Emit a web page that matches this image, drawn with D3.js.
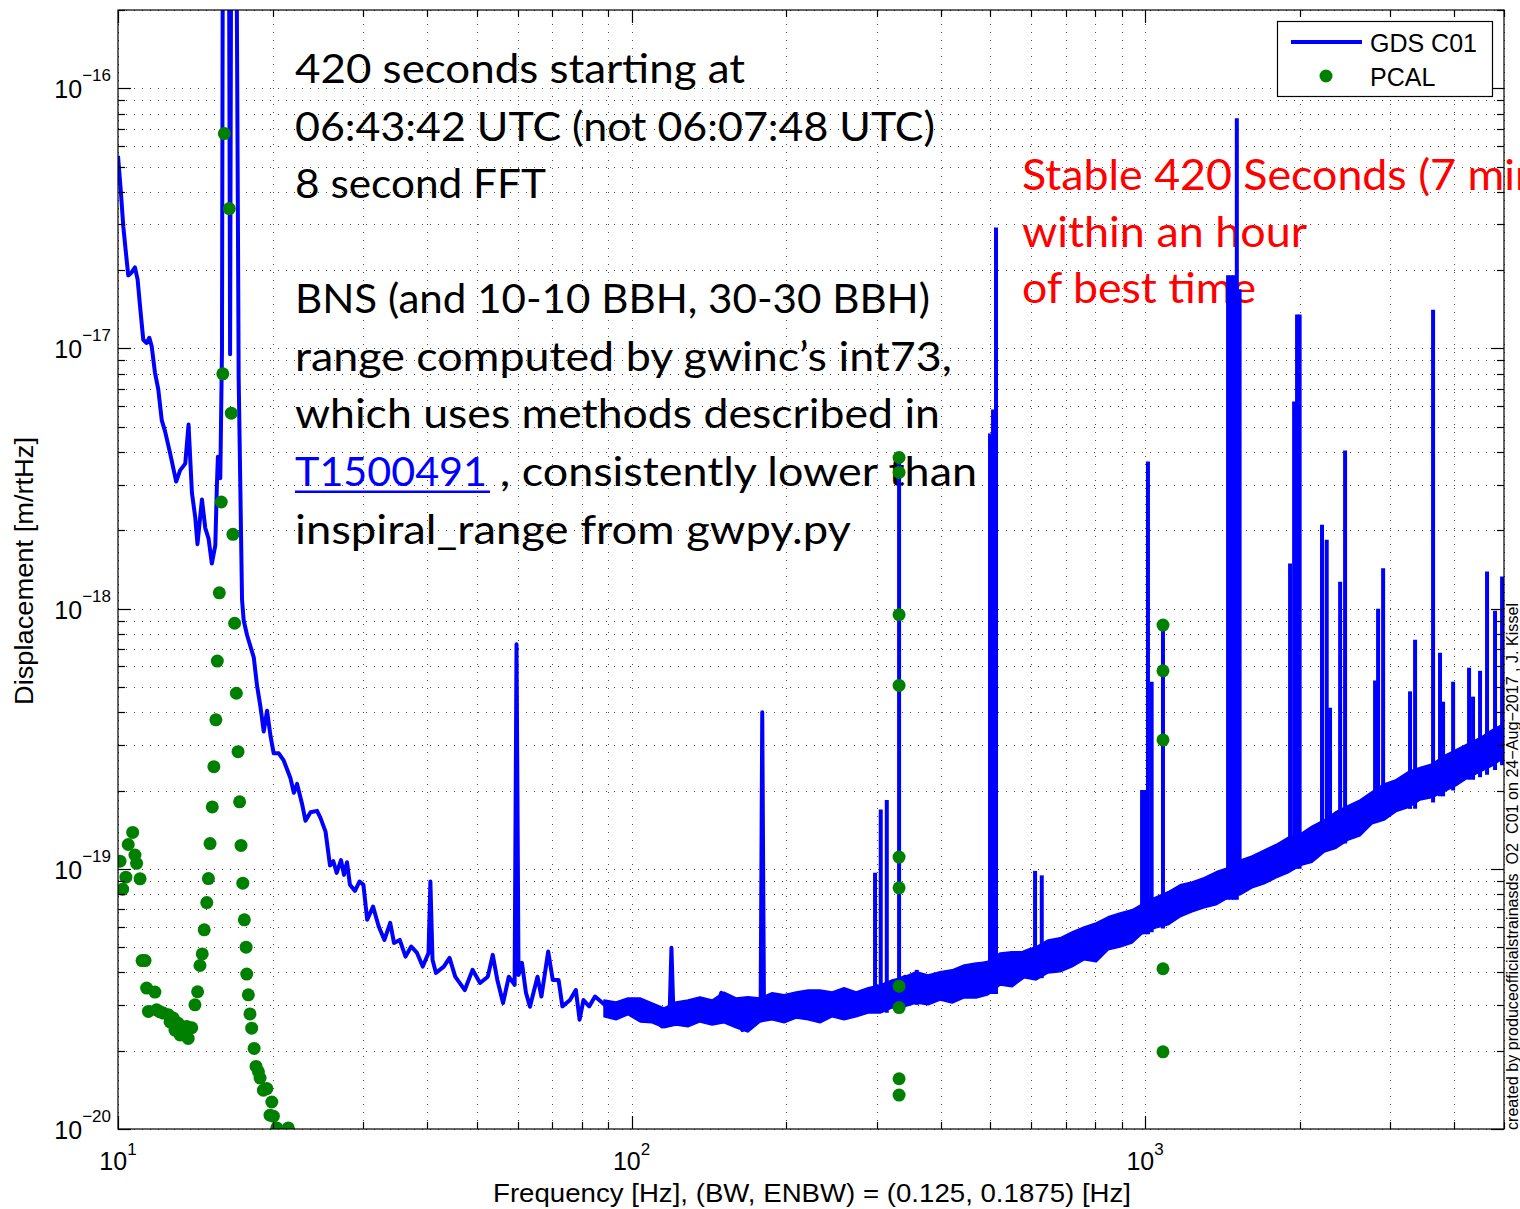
<!DOCTYPE html>
<html>
<head>
<meta charset="utf-8">
<script src="https://cdn.jsdelivr.net/npm/d3@7"></script>
<style>
    body { margin: 0; background: #fff; }
    svg { display: block; }
</style>
</head>
<body>
<div class="asd-chart-container"></div>
<script>
// GDS C01 displacement ASD (Hz, m/rtHz).
const gdsFreq = [10, 10.12, 10.24, 10.36, 10.47, 10.63, 10.79, 10.92, 11.04, 11.2, 11.37, 11.51, 11.63, 11.8, 11.98,
    12.17, 12.35, 12.63, 12.98, 13.21, 13.52, 13.72, 13.93, 14.14, 14.28, 14.57, 14.79, 15.01, 15.23, 15.47, 15.58,
    15.65, 15.82, 15.94, 16.0, 16.45, 16.53, 16.61, 17.01, 17.18, 17.44, 17.57, 17.84, 18.38, 18.65, 18.94, 19.22,
    19.51, 19.81, 20.1, 20.56, 21.02, 21.67, 22.0, 22.32, 22.82, 23.18, 23.71, 24.41, 24.79, 25.36, 25.87, 26.26,
    26.66, 27.18, 27.55, 27.92, 28.29, 28.94, 29.54, 30.05, 30.57, 31.38, 32.19, 33.02, 33.89, 34.47, 35.37, 36.3,
    37.24, 38.22, 39.21, 40.24, 40.58, 40.97, 41.61, 43.1, 44.22, 45.36, 47.35, 49.02, 50.7, 52.5, 53.67, 54.79,
    56.21, 57.68, 59.2, 59.71, 60.25, 61.18, 62.29, 63.42, 65.6, 66.76, 68.82, 70.25, 72.1, 73.34, 75.89, 77.9,
    79.23, 80.6, 82.72, 84.9, 87.85, 90.89, 94.08, 97.34, 100.8, 104.3, 107.9, 111.7, 114.6, 118.6, 119.6, 120.7,
    123.7, 128.2, 132.6, 137.2, 142.0, 147.0, 149.5, 154.7, 160.2, 164.4, 168.6, 174.6, 178.4, 179.7, 181.1, 183.6,
    190.1, 196.7, 203.6, 210.8, 221.8, 233.6, 245.9, 259.0, 272.7, 287.0, 304.8, 340.9, 358.8, 384.2, 417.2, 456.2,
    499.0, 545.9, 597.0, 653.1, 714.3, 781.3, 854.6, 934.9, 1022, 1119, 1224, 1338, 1464, 1602, 1752, 1916, 2096,
    2292, 2507, 2743, 3000, 3281, 3589, 3926, 4294, 4697, 5000];
const gdsAsd = [5.5e-17, 4.1e-17, 2.95e-17, 2.34e-17, 1.91e-17, 1.96e-17, 2.05e-17, 1.84e-17, 1.45e-17, 1.08e-17,
    1.05e-17, 1.10e-17, 1.02e-17, 8.1e-18, 6.96e-18, 5.29e-18, 4.8e-18, 3.96e-18, 3.08e-18, 3.4e-18, 3.61e-18, 5.1e-18,
    2.79e-18, 2.24e-18, 1.77e-18, 2.63e-18, 2.04e-18, 1.86e-18, 1.49e-18, 1.75e-18, 2.98e-18, 3.84e-18, 3.17e-18,
    9.9e-18, 4e-16, 4e-16, 9.5e-18, 4e-16, 4e-16, 7.6e-18, 1.08e-18, 9.0e-19, 7.9e-19, 6.5e-19, 5.07e-19, 4.2e-19,
    3.37e-19, 4.05e-19, 3.25e-19, 2.78e-19, 2.78e-19, 2.61e-19, 2.23e-19, 1.96e-19, 2.12e-19, 1.78e-19, 1.53e-19,
    1.65e-19, 1.67e-19, 1.57e-19, 1.39e-19, 1.03e-19, 1.07e-19, 9.65e-20, 1.08e-19, 9.48e-20, 1.06e-19, 8.68e-20,
    8.23e-20, 8.94e-20, 8.68e-20, 6.37e-20, 7.16e-20, 6.0e-20, 5.33e-20, 6.2e-20, 5.19e-20, 5.33e-20, 4.6e-20,
    5.03e-20, 4.75e-20, 4.21e-20, 4.75e-20, 8.94e-20, 4.47e-20, 3.98e-20, 4.21e-20, 4.55e-20, 3.85e-20, 3.42e-20,
    4.09e-20, 3.64e-20, 3.85e-20, 4.67e-20, 3.74e-20, 3.05e-20, 3.85e-20, 3.58e-20, 7.3e-19, 3.91e-20, 4.35e-20,
    3.34e-20, 2.95e-20, 3.85e-20, 3.23e-20, 4.81e-20, 3.74e-20, 3.74e-20, 2.96e-20, 3.13e-20, 3.42e-20, 2.63e-20,
    3.13e-20, 2.96e-20, 3.23e-20, 3.05e-20, 2.87e-20, 3.05e-20, 2.79e-20, 3.09e-20, 2.87e-20, 2.79e-20, 2.63e-20,
    2.48e-20, 2.75e-20, 4.97e-20, 2.75e-20, 2.87e-20, 2.87e-20, 2.7e-20, 2.96e-20, 2.79e-20, 2.96e-20, 3.34e-20,
    2.63e-20, 2.87e-20, 2.4e-20, 2.96e-20, 2.96e-20, 2.87e-20, 4.0e-19, 2.92e-20, 3.05e-20, 2.87e-20, 3.13e-20,
    2.96e-20, 3.13e-20, 3.05e-20, 3.23e-20, 3.13e-20, 3.23e-20, 2.96e-20, 3.34e-20, 3.42e-20, 3.85e-20, 3.74e-20,
    3.64e-20, 3.91e-20, 4.16e-20, 4.39e-20, 4.55e-20, 4.88e-20, 5.1e-20, 5.58e-20, 5.93e-20, 6.25e-20, 6.83e-20,
    7.27e-20, 7.6e-20, 8.3e-20, 8.68e-20, 9.74e-20, 1.03e-19, 1.13e-19, 1.23e-19, 1.32e-19, 1.44e-19, 1.54e-19,
    1.72e-19, 1.84e-19, 2.01e-19, 2.16e-19, 2.4e-19, 2.63e-19, 2.92e-19, 3.13e-19];

// Upper / lower edge of the dense noise band from ~90 Hz up.
const bandFreq = [88.4, 93.3, 98.4, 103.9, 109.6, 115.7, 122.1, 128.8, 135.9, 143.5, 151.4, 159.8, 168.6, 178.0,
    187.8, 198.2, 209.2, 220.7, 232.9, 245.8, 259.4, 273.8, 288.9, 304.9, 321.7, 339.5, 358.3, 378.1, 399.0, 421.1,
    444.4, 468.9, 494.9, 522.2, 550.8, 581.3, 613.5, 647.4, 683.2, 721.0, 760.8, 802.9, 847.3, 894.1, 943.5, 995.5,
    1051, 1109, 1170, 1235, 1303, 1375, 1451, 1531, 1616, 1705, 1799, 1899, 2004, 2115, 2232, 2355, 2485, 2623,
    2768, 2921, 3082, 3253, 3433, 3622, 3822, 4034, 4257, 4492, 4740, 5000];
const bandTop = [3.13e-20, 3.08e-20, 3.19e-20, 3.19e-20, 3.05e-20, 2.92e-20, 3.08e-20, 3.13e-20, 3.22e-20, 3.13e-20,
    3.36e-20, 3.19e-20, 3.22e-20, 3.19e-20, 3.34e-20, 3.28e-20, 3.36e-20, 3.42e-20, 3.42e-20, 3.36e-20, 3.49e-20,
    3.36e-20, 3.49e-20, 3.58e-20, 3.74e-20, 3.84e-20, 4.02e-20, 3.91e-20, 4.02e-20, 4.09e-20, 4.27e-20, 4.35e-20,
    4.39e-20, 4.75e-20, 4.8e-20, 4.8e-20, 5.01e-20, 5.33e-20, 5.43e-20, 5.72e-20, 5.98e-20, 6.2e-20, 6.54e-20,
    6.77e-20, 6.96e-20, 7.4e-20, 7.8e-20, 8.16e-20, 8.68e-20, 8.91e-20, 9.24e-20, 9.74e-20, 1.01e-19, 1.08e-19,
    1.12e-19, 1.18e-19, 1.24e-19, 1.32e-19, 1.36e-19, 1.46e-19, 1.54e-19, 1.66e-19, 1.75e-19, 1.84e-19, 1.98e-19,
    2.12e-19, 2.2e-19, 2.36e-19, 2.45e-19, 2.53e-19, 2.72e-19, 2.87e-19, 3.03e-19, 3.19e-19, 3.42e-19, 3.61e-19];
const bandBottom = [2.7e-20, 2.63e-20, 2.75e-20, 2.58e-20, 2.56e-20, 2.45e-20, 2.51e-20, 2.47e-20, 2.58e-20, 2.51e-20,
    2.56e-20, 2.45e-20, 2.36e-20, 2.58e-20, 2.63e-20, 2.56e-20, 2.67e-20, 2.63e-20, 2.56e-20, 2.7e-20, 2.63e-20,
    2.7e-20, 2.79e-20, 2.79e-20, 2.92e-20, 2.95e-20, 3.05e-20, 3.0e-20, 3.13e-20, 3.05e-20, 3.19e-20, 3.19e-20,
    3.28e-20, 3.58e-20, 3.52e-20, 3.81e-20, 3.74e-20, 3.98e-20, 4.02e-20, 4.2e-20, 4.47e-20, 4.39e-20, 4.88e-20,
    5.01e-20, 5.19e-20, 5.72e-20, 5.93e-20, 6.09e-20, 6.54e-20, 6.83e-20, 7.08e-20, 7.27e-20, 7.74e-20, 7.94e-20,
    8.45e-20, 8.76e-20, 9.24e-20, 9.65e-20, 1.03e-19, 1.06e-19, 1.16e-19, 1.2e-19, 1.29e-19, 1.34e-19, 1.49e-19,
    1.54e-19, 1.66e-19, 1.72e-19, 1.84e-19, 1.88e-19, 1.98e-19, 2.09e-19, 2.24e-19, 2.36e-19, 2.49e-19, 2.67e-19];

// Narrow lines above the band: frequency, peak, floor under the peak.
const lineFreq = [298.0, 305.7, 314.1, 331.9, 359.3, 499.0, 505.8, 512.6, 610.7, 629.3, 986.7, 1000, 1013, 1030,
    1083.7, 1451, 1471, 1490, 1509, 1528, 1916, 1951, 1977, 2000, 2211, 2258, 2292, 2398, 2452, 2805, 2843, 2908,
    3281, 3356, 3638, 3753, 3805, 3980, 4275, 4352, 4491, 4634, 4803, 4957];
const linePeak = [9.65e-20, 1.69e-19, 1.84e-19, 3.88e-18, 4.09e-20, 4.71e-18, 5.83e-18, 2.92e-17, 9.82e-20, 9.44e-20,
    2.01e-19, 2.01e-19, 3.68e-18, 5.24e-19, 8.65e-19, 1.91e-17, 1.91e-17, 1.91e-17, 7.67e-17, 1.69e-17, 1.49e-18,
    6.25e-18, 1.35e-17, 1.35e-17, 2.1e-18, 1.84e-18, 4.16e-19, 1.27e-18, 4.05e-18, 5.29e-19, 1.0e-18, 1.43e-18,
    4.81e-19, 7.6e-19, 1.41e-17, 6.77e-19, 4.39e-19, 5.24e-19, 5.93e-19, 4.59e-19, 5.77e-19, 1.39e-18, 9.82e-19,
    1.33e-18];
const lineFloor = [2.8e-20, 2.8e-20, 2.8e-20, 2.9e-20, 3.0e-20, 3.3e-20, 3.3e-20, 3.3e-20, 3.8e-20, 3.8e-20, 5.6e-20,
    5.6e-20, 5.6e-20, 5.7e-20, 5.9e-20, 7.6e-20, 7.6e-20, 7.6e-20, 7.6e-20, 8.0e-20, 1.0e-19, 1.0e-19, 1.0e-19,
    1.0e-19, 1.2e-19, 1.2e-19, 1.2e-19, 1.25e-19, 1.25e-19, 1.55e-19, 1.55e-19, 1.55e-19, 1.7e-19, 1.7e-19, 1.8e-19,
    1.9e-19, 1.9e-19, 2.0e-19, 2.2e-19, 2.2e-19, 2.25e-19, 2.3e-19, 2.4e-19, 2.5e-19];

// PCAL points.
const pcalFreq = [10.68, 10.47, 10.09, 10.79, 10.87, 10.36, 11.04, 10.21, 11.14, 11.29, 11.37, 11.8, 11.46, 11.89,
    12.07, 12.25, 12.53, 12.63, 12.81, 12.91, 13.1, 13.21, 13.31, 13.45, 13.61, 13.7, 13.92, 14.12, 14.29, 14.44,
    14.59, 14.72, 14.89, 15.0, 15.11, 15.26, 15.37, 15.51, 15.61, 15.75, 15.89, 16.0, 16.11, 16.47, 16.62, 16.74,
    16.87, 17.0, 17.13, 17.25, 17.36, 17.5, 17.62, 17.76, 17.81, 17.94, 18.07, 18.21, 18.41, 18.57, 18.77, 18.91,
    19.19, 19.49, 19.93, 19.77, 20.07, 20.38, 21.46,
    331.9, 331.9, 331.9, 331.9, 331.9, 331.9, 331.9, 331.9, 331.9, 331.9,
    1083.7, 1083.7, 1083.7, 1083.7, 1083.7];
const pcalAsd = [1.38e-19, 1.24e-19, 1.07e-19, 1.13e-19, 1.05e-19, 9.29e-20, 9.15e-20, 8.35e-20, 4.44e-20, 4.44e-20,
    3.48e-20, 3.36e-20, 2.83e-20, 2.87e-20, 2.82e-20, 2.79e-20, 2.75e-20, 2.58e-20, 2.67e-20, 2.4e-20, 2.55e-20,
    2.3e-20, 2.4e-20, 2.34e-20, 2.48e-20, 2.23e-20, 2.45e-20, 3.0e-20, 3.37e-20, 4.25e-20, 4.71e-20, 5.83e-20,
    7.42e-20, 9.17e-20, 1.25e-19, 1.73e-19, 2.47e-19, 3.74e-19, 6.29e-19, 1.15e-18, 2.57e-18, 7.99e-18, 6.7e-17,
    3.45e-17, 5.64e-18, 1.93e-18, 8.79e-19, 4.73e-19, 2.82e-19, 1.81e-19, 1.23e-19, 8.81e-20, 6.37e-20, 5.0e-20,
    3.94e-20, 3.28e-20, 2.77e-20, 2.44e-20, 2.04e-20, 1.74e-20, 1.66e-20, 1.57e-20, 1.41e-20, 1.43e-20, 1.27e-20,
    1.13e-20, 1.12e-20, 1.01e-20, 1.01e-20,
    3.81e-18, 3.34e-18, 9.48e-19, 5.07e-19, 1.11e-19, 8.45e-20, 3.54e-20, 2.93e-20, 1.56e-20, 1.35e-20,
    8.65e-19, 5.77e-19, 3.13e-19, 4.13e-20, 1.98e-20];

const xMajorTicks = [10, 100, 1000];
const xExponents = ['1', '2', '3'];
const yMajorTicks = [1e-20, 1e-19, 1e-18, 1e-17, 1e-16];
const yExponents = ['\u221220', '\u221219', '\u221218', '\u221217', '\u221216'];

const noteLines = [
    '420 seconds starting at',
    '06:43:42 UTC (not 06:07:48 UTC)',
    '8 second FFT',
    'BNS (and 10-10 BBH, 30-30 BBH)',
    'range computed by gwinc\u2019s int73,',
    'which uses methods described in',
    ', consistently lower than',
    'inspiral_range from gwpy.py'
];
const noteLink = 'T1500491';
const redLines = ['Stable 420 Seconds (7 min)', 'within an hour', 'of best time'];
const legendLabels = ['GDS C01', 'PCAL'];
const xTitle = 'Frequency [Hz], (BW, ENBW) = (0.125, 0.1875) [Hz]';
const yTitle = 'Displacement [m/rtHz]';
const credit = 'created by produceofficialstrainasds  O2  C01 on 24\u2212Aug\u22122017 , J. Kissel';

const BLUE = '#0000ff';
const GREEN = '#008000';
const AXIS_FONT = '"Liberation Sans", Arial, sans-serif';
const NOTE_FONT = 'Lato, "Open Sans", sans-serif';

const svg = d3
    .select('.asd-chart-container')
    .append('svg')
    .attr('width', 1520)
    .attr('height', 1209);

ready();

function ready() {
    const area = baseDimension();

    const x = d3.scaleLog().domain([10, 5000]).range([area.left, area.right]);
    const y = d3.scaleLog().domain([1e-20, 2e-16]).range([area.bottom, area.top]);

    drawGrid(x, y, area);
    drawNotes();
    drawData(x, y, area);
    drawAxes(x, y, area);
    drawLegend();
    drawTitles(area);
}

function baseDimension() {
    return {left: 118, right: 1504, top: 10, bottom: 1129};
}

function drawGrid(x, y, area) {
    const grid = svg.append('g')
        .attr('stroke', '#000')
        .attr('stroke-width', 1)
        .attr('stroke-dasharray', '1,7')
        .attr('opacity', 0.7);

    grid.selectAll('.gx')
        .data(x.ticks())
        .enter()
        .append('line')
        .attr('x1', d => Math.round(x(d)) + 0.5)
        .attr('x2', d => Math.round(x(d)) + 0.5)
        .attr('y1', area.bottom)
        .attr('y2', area.top);

    grid.selectAll('.gy')
        .data(y.ticks())
        .enter()
        .append('line')
        .attr('y1', d => Math.round(y(d)) + 0.5)
        .attr('y2', d => Math.round(y(d)) + 0.5)
        .attr('x1', area.left)
        .attr('x2', area.right);
}

function drawNotes() {
    const notes = svg.append('g')
        .attr('font-family', NOTE_FONT)
        .attr('font-size', 40)
        .attr('fill', '#000');

    // left, baseline, width of each black line
    const layout = [
        [295, 83, 450], [295, 140.5, 640], [295, 198, 251], [295, 313, 635],
        [295, 370.5, 657], [295, 428, 645], [500, 486, 477], [295, 543.5, 556]
    ];
    noteLines.forEach((t, i) => {
        notes.append('text')
            .attr('x', layout[i][0])
            .attr('y', layout[i][1])
            .attr('textLength', layout[i][2])
            .attr('lengthAdjust', 'spacingAndGlyphs')
            .text(t);
    });

    notes.append('text')
        .attr('x', 295)
        .attr('y', 486)
        .attr('textLength', 192)
        .attr('lengthAdjust', 'spacingAndGlyphs')
        .attr('fill', BLUE)
        .text(noteLink);
    notes.append('rect')
        .attr('x', 295)
        .attr('y', 490.5)
        .attr('width', 195)
        .attr('height', 2.5)
        .attr('fill', BLUE);

    const red = svg.append('g')
        .attr('font-family', NOTE_FONT)
        .attr('font-size', 42)
        .attr('fill', '#ff0000');

    // first red line runs off the figure; fit its visible part "Stable ... (7 mi"
    const probe = red.append('text').text(redLines[0].slice(0, 24));
    const prefixWidth = probe.node().getComputedTextLength();
    probe.remove();
    const first = red.append('text').attr('x', 1022).attr('y', 190).text(redLines[0]);
    const fullWidth = first.node().getComputedTextLength();
    first.attr('textLength', fullWidth * 493 / prefixWidth).attr('lengthAdjust', 'spacingAndGlyphs');

    red.append('text').attr('x', 1022).attr('y', 246.5)
        .attr('textLength', 285).attr('lengthAdjust', 'spacingAndGlyphs')
        .text(redLines[1]);
    red.append('text').attr('x', 1022).attr('y', 303)
        .attr('textLength', 234).attr('lengthAdjust', 'spacingAndGlyphs')
        .text(redLines[2]);
}

function drawData(x, y, area) {
    svg.append('clipPath')
        .attr('id', 'plot-clip')
        .append('rect')
        .attr('x', area.left)
        .attr('y', area.top)
        .attr('width', area.right - area.left)
        .attr('height', area.bottom - area.top);

    const plot = svg.append('g').attr('clip-path', 'url(#plot-clip)');

    const band = bandFreq.map((f, i) => ({f: f, hi: bandTop[i], lo: bandBottom[i]}));
    const bandArea = d3.area()
        .x(d => x(d.f))
        .y0(d => y(d.lo))
        .y1(d => y(d.hi));
    plot.append('path')
        .datum(band)
        .attr('d', bandArea)
        .attr('fill', BLUE)
        .attr('stroke', BLUE)
        .attr('stroke-width', 1.5)
        .attr('stroke-linejoin', 'round');

    const gds = gdsFreq.map((f, i) => ({f: f, v: gdsAsd[i]}));
    const lineGenerator = d3.line()
        .x(d => x(d.f))
        .y(d => y(d.v));
    plot.append('path')
        .datum(gds)
        .attr('d', lineGenerator)
        .attr('fill', 'none')
        .attr('stroke', BLUE)
        .attr('stroke-width', 4)
        .attr('stroke-linejoin', 'round');

    const lines = lineFreq.map((f, i) => ({f: f, peak: linePeak[i], floor: lineFloor[i]}));
    plot.selectAll('.narrow-line')
        .data(lines)
        .enter()
        .append('line')
        .attr('class', 'narrow-line')
        .attr('x1', d => x(d.f))
        .attr('x2', d => x(d.f))
        .attr('y1', d => y(d.floor))
        .attr('y2', d => y(d.peak))
        .attr('stroke', BLUE)
        .attr('stroke-width', 4);

    const pcal = pcalFreq.map((f, i) => ({f: f, v: pcalAsd[i]}));
    plot.selectAll('.pcal')
        .data(pcal)
        .enter()
        .append('circle')
        .attr('class', 'pcal')
        .attr('cx', d => x(d.f))
        .attr('cy', d => y(d.v))
        .attr('r', 6.5)
        .attr('fill', GREEN);
}

function drawAxes(x, y, area) {
    const axes = svg.append('g')
        .attr('stroke', '#000')
        .attr('stroke-width', 1.2);

    const isMajorX = d => xMajorTicks.indexOf(d) >= 0;
    const isMajorY = d => yMajorTicks.some(m => Math.abs(m / d - 1) < 1e-6);

    // inward ticks on all four sides
    x.ticks().forEach(d => {
        const len = isMajorX(d) ? 13 : 7;
        const px = Math.round(x(d)) + 0.5;
        axes.append('line').attr('x1', px).attr('x2', px).attr('y1', area.bottom).attr('y2', area.bottom - len);
        axes.append('line').attr('x1', px).attr('x2', px).attr('y1', area.top).attr('y2', area.top + len);
    });
    y.ticks().forEach(d => {
        const len = isMajorY(d) ? 13 : 7;
        const py = Math.round(y(d)) + 0.5;
        axes.append('line').attr('y1', py).attr('y2', py).attr('x1', area.left).attr('x2', area.left + len);
        axes.append('line').attr('y1', py).attr('y2', py).attr('x1', area.right).attr('x2', area.right - len);
    });

    axes.append('rect')
        .attr('x', area.left)
        .attr('y', area.top)
        .attr('width', area.right - area.left)
        .attr('height', area.bottom - area.top)
        .attr('fill', 'none');

    const labels = svg.append('g')
        .attr('font-family', AXIS_FONT)
        .attr('fill', '#000');

    xMajorTicks.forEach((d, i) => {
        const t = labels.append('text')
            .attr('x', x(d))
            .attr('y', 1170)
            .attr('text-anchor', 'middle')
            .attr('font-size', 25)
            .text('10');
        t.append('tspan')
            .attr('dy', -15)
            .attr('font-size', 17)
            .text(xExponents[i]);
    });

    yMajorTicks.forEach((d, i) => {
        const t = labels.append('text')
            .attr('x', 111)
            .attr('y', y(d) + 10)
            .attr('text-anchor', 'end')
            .attr('font-size', 25)
            .text('10');
        t.append('tspan')
            .attr('dy', -17)
            .attr('font-size', 17)
            .text(yExponents[i]);
    });
}

function drawLegend() {
    const legend = svg.append('g');

    legend.append('rect')
        .attr('x', 1277.5)
        .attr('y', 21.5)
        .attr('width', 215)
        .attr('height', 75)
        .attr('fill', '#fff')
        .attr('stroke', '#000')
        .attr('stroke-width', 1.2);

    legend.append('line')
        .attr('x1', 1291)
        .attr('x2', 1362)
        .attr('y1', 42)
        .attr('y2', 42)
        .attr('stroke', BLUE)
        .attr('stroke-width', 4);

    legend.append('circle')
        .attr('cx', 1326)
        .attr('cy', 76)
        .attr('r', 6.5)
        .attr('fill', GREEN);

    legend.selectAll('.legend-label')
        .data(legendLabels)
        .enter()
        .append('text')
        .attr('class', 'legend-label')
        .attr('x', 1370)
        .attr('y', (d, i) => 52 + i * 34)
        .attr('font-family', AXIS_FONT)
        .attr('font-size', 25)
        .text(d => d);
}

function drawTitles(area) {
    svg.append('text')
        .attr('x', (area.left + area.right) / 2 + 1)
        .attr('y', 1202)
        .attr('text-anchor', 'middle')
        .attr('font-family', AXIS_FONT)
        .attr('font-size', 26)
        .attr('textLength', 638)
        .attr('lengthAdjust', 'spacingAndGlyphs')
        .text(xTitle);

    svg.append('text')
        .attr('transform', 'translate(33, 571) rotate(-90)')
        .attr('text-anchor', 'middle')
        .attr('font-family', AXIS_FONT)
        .attr('font-size', 26)
        .attr('textLength', 268)
        .attr('lengthAdjust', 'spacingAndGlyphs')
        .text(yTitle);

    svg.append('text')
        .attr('transform', 'translate(1518, 1130) rotate(-90)')
        .attr('font-family', AXIS_FONT)
        .attr('font-size', 16)
        .attr('textLength', 527)
        .attr('lengthAdjust', 'spacingAndGlyphs')
        .style('white-space', 'pre')
        .text(credit);
}
</script>
</body>
</html>
